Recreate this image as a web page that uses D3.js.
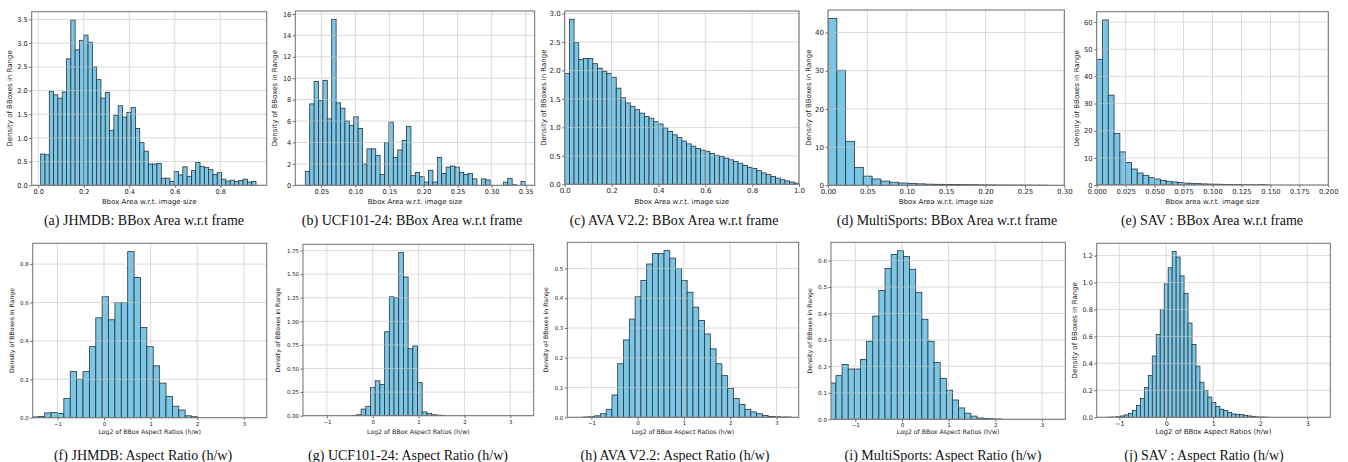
<!DOCTYPE html>
<html><head><meta charset="utf-8">
<script src="https://cdn.jsdelivr.net/npm/d3@7"></script>
<style>body{margin:0;background:#fff}svg{display:block}</style>
</head><body>
<svg id="c" width="1348" height="462"></svg>
<script>
// ---- data (histogram densities, bin start, bin width) ----
const areaJHMDB = [0.66,0.645,1.985,1.91,1.84,1.97,2.67,3.49,2.86,3.06,3.17,3.02,2.5,2.23,1.84,1.96,1.16,1.48,1.68,1.44,1.54,1.64,1.2,0.9,0.72,0.45,0.45,0.46,0.15,0.15,0.08,0.29,0.22,0.39,0.19,0.31,0.48,0.4,0.38,0.33,0.23,0.27,0.13,0.09,0.11,0.08,0.1,0.13,0.07,0.08];
const areaUCF = [1.3,7.6,9.7,7.9,9.8,6.2,15.5,7.7,7.2,6.0,5.6,6.4,5.3,2.0,3.4,3.4,2.8,1.0,4.0,5.9,2.6,3.3,4.2,5.5,0.9,1.2,0.8,0.3,1.4,0.3,2.6,1.1,1.7,1.8,1.7,1.2,1.0,1.1,0.6,0,0.6,0.5,0,0,0,0.3,0.65,0.05,0,0.35];
const areaAVA = [1.95,2.9,2.49,2.19,2.21,2.21,2.12,2.04,1.98,1.95,1.88,1.69,1.52,1.43,1.37,1.31,1.25,1.19,1.16,1.1,1.06,0.99,0.93,0.87,0.82,0.76,0.71,0.67,0.63,0.6,0.58,0.54,0.51,0.49,0.46,0.43,0.4,0.37,0.33,0.3,0.28,0.24,0.2,0.17,0.14,0.11,0.08,0.06,0.04,0.02];
const areaMulti = [43.7,30.1,11.5,4.7,2.4,1.65,1.1,0.8,0.6,0.5,0.38,0.3,0.26,0.22,0.2,0.17,0.15,0.12,0.1,0.08,0.07,0.06,0.05,0.04,0.03];
const areaSAV = [46.3,60.8,33.1,19.0,12.2,8.3,5.9,4.4,3.55,2.7,2.2,1.7,1.35,1.1,0.9,0.7,0.6,0.5,0.4,0.35,0.3,0.25,0.2,0.2,0.15,0.12,0.1,0.1,0.15,0.05];
const ratioJHMDB = [0.004,0.006,0.025,0.027,0.022,0.1,0.24,0.2,0.24,0.37,0.52,0.63,0.51,0.6,0.6,0.865,0.73,0.47,0.37,0.27,0.18,0.11,0.06,0.04,0.01,0.005];
const ratioUCF = [0.004,0.01,0.07,0.1,0.3,0.37,0.33,0.89,1.26,1.25,1.73,1.47,0.71,0.74,0.35,0.04,0.025,0.01,0.006,0.004];
const ratioAVA = [0.001,0.002,0.005,0.012,0.027,0.075,0.18,0.26,0.33,0.405,0.46,0.515,0.55,0.55,0.56,0.535,0.5,0.46,0.42,0.37,0.325,0.28,0.23,0.18,0.14,0.097,0.063,0.043,0.027,0.018,0.012,0.006,0.003,0.002,0.001,0.001];
const ratioMulti = [0.137,0.165,0.207,0.19,0.19,0.226,0.295,0.39,0.487,0.57,0.623,0.637,0.615,0.567,0.48,0.378,0.295,0.215,0.155,0.11,0.073,0.043,0.023,0.012,0.005,0.003,0.002,0.001];
const ratioSAV = [0.001,0.002,0.005,0.01,0.018,0.03,0.05,0.087,0.14,0.22,0.31,0.455,0.615,0.8,0.99,1.11,1.23,1.19,1.05,0.92,0.7,0.54,0.38,0.26,0.2,0.15,0.11,0.08,0.06,0.05,0.035,0.025,0.022,0.02,0.015,0.01,0.007,0.003,0.002,0.001];

const binStart = [0.0105, 0.0265, 0, 0, 0, -1.547, -0.458, -1.18, -1.545, -1.2265];
const binWidth = [0.01893, 0.00646, 0.02, 0.0112, 0.005, 0.137, 0.1025, 0.125, 0.1314, 0.0845];

const xTickSets = [
  [0,0.2,0.4,0.6,0.8],
  [0.05,0.1,0.15,0.2,0.25,0.3,0.35],
  [0,0.2,0.4,0.6,0.8,1.0],
  [0,0.05,0.1,0.15,0.2,0.25,0.3],
  [0,0.025,0.05,0.075,0.1,0.125,0.15,0.175,0.2],
  [-1,0,1,2,3],[-1,0,1,2,3],[-1,0,1,2,3],[-1,0,1,2,3],[-1,0,1,2,3]
];
const yTickSets = [
  [0,0.5,1,1.5,2,2.5,3,3.5],
  [0,2,4,6,8,10,12,14,16],
  [0,0.5,1,1.5,2,2.5,3],
  [0,10,20,30,40],
  [0,10,20,30,40,50,60],
  [0,0.2,0.4,0.6,0.8],
  [0,0.25,0.5,0.75,1,1.25,1.5,1.75],
  [0,0.1,0.2,0.3,0.4,0.5],
  [0,0.1,0.2,0.3,0.4,0.5,0.6],
  [0,0.2,0.4,0.6,0.8,1.0,1.2]
];
const xDomains = [[-0.029,1.004],[0.0118,0.3632],[0,1],[0,0.3],[0,0.2],[-1.53,3.49],[-1.52,3.51],[-1.52,3.48],[-1.52,3.5],[-1.48,3.49]];
const xLabels = ["Bbox Area w.r.t. image size","Bbox Area w.r.t. image size","Bbox Area w.r.t. image size","Bbox Area w.r.t. image size","Bbox area w.r.t. image size",
  "Log2 of BBox Aspect Ratios (h/w)","Log2 of BBox Aspect Ratios (h/w)","Log2 of BBox Aspect Ratios (h/w)","Log2 of BBox Aspect Ratios (h/w)","Log2 of BBox Aspect Ratios (h/w)"];
const captions = ["(a) JHMDB: BBox Area w.r.t frame","(b) UCF101-24: BBox Area w.r.t frame","(c) AVA V2.2: BBox Area w.r.t frame","(d) MultiSports: BBox Area w.r.t frame","(e) SAV : BBox Area w.r.t frame",
  "(f) JHMDB: Aspect Ratio (h/w)","(g) UCF101-24: Aspect Ratio (h/w)","(h) AVA V2.2: Aspect Ratio (h/w)","(i) MultiSports: Aspect Ratio (h/w)","(j) SAV : Aspect Ratio (h/w)"];
const yLabel = "Density of BBoxes in Range";
const series = [areaJHMDB,areaUCF,areaAVA,areaMulti,areaSAV,ratioJHMDB,ratioUCF,ratioAVA,ratioMulti,ratioSAV];
const xFormats = [".1f",".2f",".1f",".2f",".3f","d","d","d","d","d"];
const yFormats = [".1f","d",".1f","d","d",".1f",".2f",".1f",".1f",".1f"];

// ---- layout ----
const rects = [ // left, top, right, bottom
  [31.7,11.7,266.7,185.3],[295.3,11,534.7,185.3],[564.7,11,799,184.3],[828,10,1064.3,185.3],[1096.7,11.7,1328.3,185],
  [32.7,243.3,266.7,417.7],[303,244.3,533.7,415.7],[567.3,242.3,798.7,417.3],[831,242.3,1065.3,419.3],[1096.7,243.3,1330.3,417.3]
];
const yLabX = [10,275,544,809,1077,11.5,278,546,810,1074.5];
const yLabClip = [null,null,null,null,1074.3,null,null,null,null,null];
const capX = [144,412,674,947,1212,143,408,675,943,1204];
const tickFs = [6.6,6.6,7,7,6.8,5.4,5.4,5.4,5.6,6.4];
const labFs = [7,7,7,7,7,6.2,6.2,6.2,6.2,7];

const svg = d3.select("#c");
const defs = svg.append("defs");
const SANS = "DejaVu Sans, sans-serif";
const FILL = "#7cc6e5", EDGE = "#27343c", SPINE = "#6f6f6f", GRID = "#c4c4c4";

series.forEach((vals, p) => {
  const [L,T,R,B] = rects[p];
  const row = p < 5 ? 0 : 1;
  const x = d3.scaleLinear().domain(xDomains[p]).range([L,R]);
  const y = d3.scaleLinear().domain([0, d3.max(vals)*1.05]).range([B,T]);
  const g = svg.append("g");
  const cid = "clip"+p;
  defs.append("clipPath").attr("id",cid).append("rect")
    .attr("x",L).attr("y",T).attr("width",R-L).attr("height",B-T);

  // bars
  const bins = vals.map((v,i)=>({x0:binStart[p]+i*binWidth[p], x1:binStart[p]+(i+1)*binWidth[p], v}));
  g.append("g").attr("clip-path",`url(#${cid})`).selectAll("rect").data(bins).join("rect")
    .attr("x",d=>x(d.x0)).attr("width",d=>x(d.x1)-x(d.x0))
    .attr("y",d=>y(d.v)).attr("height",d=>y(0)-y(d.v))
    .attr("fill",FILL).attr("stroke",EDGE).attr("stroke-width",0.8);

  // grid on top (semi-transparent)
  const grid = g.append("g").attr("stroke",GRID).attr("stroke-width",1).attr("opacity",0.6);
  xTickSets[p].forEach(t=>{ grid.append("line").attr("x1",x(t)).attr("x2",x(t)).attr("y1",T).attr("y2",B); });
  yTickSets[p].forEach(t=>{ grid.append("line").attr("x1",L).attr("x2",R).attr("y1",y(t)).attr("y2",y(t)); });

  // axes
  const xa = g.append("g").attr("transform",`translate(0,${B})`)
    .call(d3.axisBottom(x).tickValues(xTickSets[p]).tickFormat(d3.format(xFormats[p])).tickSize(2.5).tickPadding(1.5));
  const ya = g.append("g").attr("transform",`translate(${L},0)`)
    .call(d3.axisLeft(y).tickValues(yTickSets[p]).tickFormat(d3.format(yFormats[p])).tickSize(2.5).tickPadding(1.5));
  [xa,ya].forEach(a=>{
    a.select(".domain").remove();
    a.selectAll("line").attr("stroke",SPINE);
    a.selectAll("text").attr("font-family",SANS).attr("font-size",tickFs[p]).attr("fill","#222");
  });
  // frame
  g.append("rect").attr("x",L).attr("y",T).attr("width",R-L).attr("height",B-T)
    .attr("fill","none").attr("stroke",SPINE).attr("stroke-width",1);

  // labels
  g.append("text").attr("x",(L+R)/2).attr("y", row===0 ? 203.8 : 434)
    .attr("text-anchor","middle").attr("font-family",SANS).attr("font-size",labFs[p]).attr("fill","#222")
    .text(xLabels[p]);
  const yl = g.append("text").attr("transform",`translate(${yLabX[p]+2.4},${(T+B)/2}) rotate(-90)`)
    .attr("text-anchor","middle").attr("font-family",SANS).attr("font-size",labFs[p]).attr("fill","#222")
    .text(yLabel);
  if (yLabClip[p] !== null) {
    const lid = "lclip"+p;
    defs.append("clipPath").attr("id",lid).append("rect")
      .attr("x",yLabClip[p]).attr("y",T).attr("width",L-yLabClip[p]).attr("height",B-T);
    g.append("g").attr("clip-path",`url(#${lid})`).node().appendChild(yl.node());
  }
  g.append("text").attr("x",capX[p]).attr("y", row===0 ? 225 : 460)
    .attr("text-anchor","middle").attr("font-family","Liberation Serif, Times New Roman, serif")
    .attr("font-size",14).attr("fill","#111").text(captions[p]);
});
</script>
</body></html>
